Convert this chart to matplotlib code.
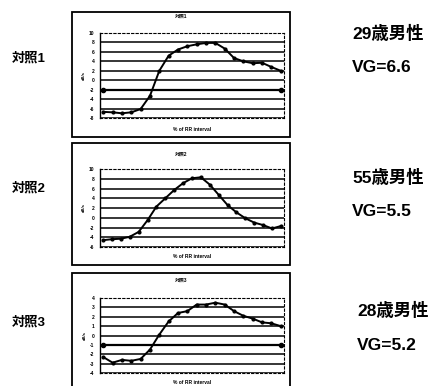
import matplotlib
matplotlib.use("Agg")
import matplotlib.pyplot as plt
from matplotlib.patches import Rectangle

plt.rcParams['font.family'] = ['Liberation Sans', 'Noto Sans CJK JP', 'DejaVu Sans']

# data
vals1 = [-6.7, -6.8, -7.0, -6.8, -6.1, -3.3, 2.0, 5.2, 6.5, 7.2,
         7.6, 7.9, 7.9, 6.7, 4.7, 4.0, 3.6, 3.7, 2.8, 2.0]
vals2 = [-4.6, -4.4, -4.3, -3.9, -2.9, -0.5, 2.3, 4.0, 5.7, 7.1,
         8.1, 8.3, 6.8, 4.7, 2.6, 1.1, -0.1, -1.0, -1.5, -2.2, -1.7]
vals3 = [-2.3, -2.9, -2.6, -2.7, -2.5, -1.5, 0.1, 1.5, 2.4, 2.6,
         3.3, 3.3, 3.5, 3.3, 2.6, 2.1, 1.8, 1.4, 1.3, 1.0]
ref1 = -2
ref3 = -1
yticks1 = [-8, -6, -4, -2, 0, 2, 4, 6, 8, 10]
yticks2 = [-6, -4, -2, 0, 2, 4, 6, 8, 10]
yticks3 = [-4, -3, -2, -1, 0, 1, 2, 3, 4]
titles = ['対照1', '対照2', '対照3']
left_labels = ['対照1', '対照2', '対照3']
ages = ['29歳男性', '55歳男性', '28歳男性']
vgs = ['VG=6.6', 'VG=5.5', 'VG=5.2']

W, H = 440, 386
fig = plt.figure(figsize=(W / 100, H / 100), dpi=100)


def fx(px):
    return px / W


def fy(py):
    return 1 - py / H


# (box top, box bottom, plot top, plot bottom, title y, xlabel y, left label y, age y, vg y, age x)
layout = [
    (12, 137, 33, 118, 16, 129, 58, 33, 68, 352),
    (143, 265, 169, 247, 154, 256, 188, 177, 212, 352),
    (273, 392, 298, 373, 280, 383, 322, 310, 345, 357),
]
series = [vals1, vals2, vals3]
ticks = [yticks1, yticks2, yticks3]
refs = [ref1, None, ref3]

for i in range(3):
    bt, bb, pt, pb, ty, xy, ly, ay, vy, ax_x = layout[i]
    fig.patches.append(Rectangle((fx(72), fy(bb)), fx(290 - 72), (bb - bt) / H,
                                 transform=fig.transFigure, fill=False,
                                 edgecolor='black', linewidth=1.3))
    ax = fig.add_axes([fx(100), fy(pb), fx(184), (pb - pt) / H])
    v = series[i]
    x = list(range(len(v)))
    yt = ticks[i]
    for t in yt[:-1]:
        ax.axhline(t, color='black', linewidth=1.1, zorder=1)
    if refs[i] is not None:
        ax.plot([0, len(v) - 1], [refs[i], refs[i]], color='black', linewidth=1.6,
                marker='o', markersize=3, zorder=2)
    ax.plot(x, v, color='black', linewidth=1.4, marker='o', markersize=2, zorder=3)
    ax.set_xlim(-0.35, len(v) - 1 + 0.35)
    ax.set_ylim(yt[0], yt[-1])
    ax.set_yticks(yt)
    ax.set_yticklabels([str(t) for t in yt], fontsize=3.5, fontweight='bold')
    ax.tick_params(axis='y', length=0, pad=4)
    ax.set_xticks([])
    for s in ['top', 'right', 'bottom']:
        ax.spines[s].set_linestyle((0, (2, 2)))
        ax.spines[s].set_linewidth(0.8)
    ax.spines['left'].set_linewidth(1.0)
    ax.set_ylabel('dB/s', fontsize=3, fontweight='bold', labelpad=2)
    fig.text(fx(181), fy(ty), titles[i], fontsize=3.5, fontweight='bold',
             ha='center', va='center')
    fig.text(fx(192), fy(xy), '% of RR interval', fontsize=3.5, fontweight='bold',
             ha='center', va='center')
    fig.text(fx(12), fy(ly), left_labels[i], fontsize=9.5, fontweight='bold',
             ha='left', va='center')
    fig.text(fx(ax_x), fy(ay), ages[i], fontsize=12.5, fontweight='bold',
             ha='left', va='center')
    fig.text(fx(ax_x), fy(vy), vgs[i], fontsize=12.5, fontweight='bold',
             ha='left', va='center')

fig.savefig('out.png', dpi=100)
